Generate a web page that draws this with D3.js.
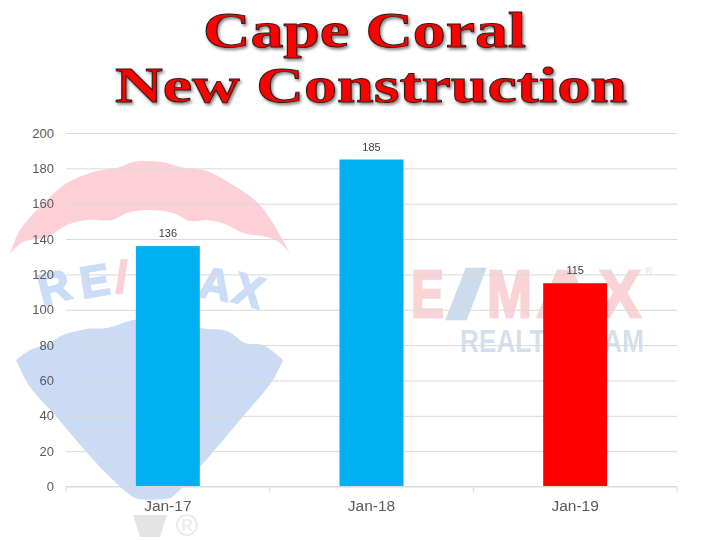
<!DOCTYPE html>
<html><head><meta charset="utf-8">
<script src="https://cdn.jsdelivr.net/npm/d3@7"></script>
<style>
html,body{margin:0;padding:0;background:#fff}
svg{display:block}
</style></head><body>
<svg id="c" width="720" height="540"></svg>
<script>
const categories = ["Jan-17","Jan-18","Jan-19"];
const values = [136,185,115];
const barColors = ["#00b0f0","#00b0f0","#ff0000"];
const yTicks = [0,20,40,60,80,100,120,140,160,180,200];
const titleLines = ["Cape Coral","New Construction"];

const topOuter = [[10,254],[20,230],[50,197],[67,183],[93,172],[120,167],[133,162],[150,161],[167,163],[180,167],[207,171],[233,185],[257,202],[273,223],[290,254]];
const topInner = [[290,254],[280,243],[267,237],[243,233],[227,225],[207,220],[190,221],[173,213],[147,210],[127,213],[112,220],[87,220],[67,225],[47,237],[23,242],[10,254]];
const bottomUpper = [[16,360],[30,350],[50,343],[63,335],[87,329],[107,328],[133,320],[150,318],[173,319],[200,328],[227,331],[245,343],[263,345],[283,360]];
const bottomLower = [[283,360],[273,380],[240,420],[200,467],[172,497],[165,499],[138,499],[130,495],[100,467],[53,413],[30,387],[16,360]];
const basket = [[133,515],[167,515],[160,537],[140,537]];
const arcLetters = [["R",58,302,-15,"#cbdcf7"],["E",97,296,-9,"#cbdcf7"],["/",122,292,-2,"#fbd0d6"],["M",168,294,3,"#cbdcf7"],["A",213,299,10,"#cbdcf7"],["X",245,305,15,"#cbdcf7"]];
const rightLetters = [["E",411,33,"#f9d3d6"],["/",447,38,"#cddcec"],["M",487,45,"#f9d3d6"],["A",536,58,"#f9d3d6"],["X",599,42,"#f9d3d6"]];

const svg = d3.select("#c");
const sans = "'Liberation Sans',Arial,sans-serif";
const defs = svg.append("defs");
const f = defs.append("filter").attr("id","sh").attr("x","-5%").attr("y","-10%").attr("width","110%").attr("height","130%");
f.append("feDropShadow").attr("dx",1.5).attr("dy",2).attr("stdDeviation",1.6).attr("flood-color","#000").attr("flood-opacity",0.5);
const bl = defs.append("filter").attr("id","soft");
bl.append("feGaussianBlur").attr("stdDeviation",0.5);

// Watermark
const wm = svg.append("g").attr("filter","url(#soft)");
const smooth = d3.line().curve(d3.curveCatmullRom.alpha(0.5));
const joined = (a,b)=> smooth(a) + smooth(b).replace(/^M/,"L") + "Z";
wm.append("path").attr("d",joined(topOuter,topInner)).attr("fill","#fdd0d7");
wm.append("path").attr("d",joined(bottomUpper,bottomLower)).attr("fill","#cbdbf4");
wm.append("path").attr("d",d3.line()(basket)+"Z").attr("fill","#e4e4e4");
wm.append("circle").attr("cx",187).attr("cy",525).attr("r",10).attr("fill","none").attr("stroke","#ececec").attr("stroke-width",2);
wm.append("text").attr("x",187).attr("y",531).attr("text-anchor","middle").attr("font-family",sans).attr("font-weight","bold").attr("font-size",16).attr("fill","#ececec").text("R");
wm.selectAll("text.l").data(arcLetters).join("text").attr("class","l")
  .attr("transform",d=>`translate(${d[1]},${d[2]}) rotate(${d[3]})`)
  .attr("text-anchor","middle").attr("font-family",sans).attr("font-weight","bold").attr("font-size",44)
  .attr("fill",d=>d[4]).attr("stroke",d=>d[4]).attr("stroke-width",2).text(d=>d[0]);
wm.selectAll("text.r").data(rightLetters).join("text").attr("class","r")
  .attr("x",d=>d[1]).attr("y",317).attr("font-family",sans).attr("font-weight","bold").attr("font-size",67)
  .attr("textLength",d=>d[2]).attr("lengthAdjust","spacingAndGlyphs").attr("fill",d=>d[3])
  .attr("stroke",d=>d[3]).attr("stroke-width",2.5).text(d=>d[0]);
wm.append("text").attr("x",645).attr("y",275).attr("font-family",sans).attr("font-size",10).attr("fill","#f9d3d6").text("®");
wm.append("text").attr("x",460).attr("y",352).attr("font-family",sans).attr("font-weight","bold").attr("font-size",31).attr("textLength",184).attr("lengthAdjust","spacingAndGlyphs").attr("fill","#d3dfec").text("REALTY TEAM");

// Scales
const x = d3.scaleBand().domain(categories).range([66,677]).paddingInner(0.686).paddingOuter(0.343);
const y = d3.scaleLinear().domain([0,200]).range([486.5,133]);

// Grid + y labels
const yAxis = d3.axisLeft(y).tickValues(yTicks).tickSize(-611).tickPadding(12);
const gy = svg.append("g").attr("transform","translate(66,0)").call(yAxis);
gy.select(".domain").remove();
gy.selectAll("line").attr("stroke","#d9d9d9").attr("stroke-width",1);
gy.selectAll("text").attr("font-family",sans).attr("font-size",13).attr("fill","#595959");

// Bars
svg.append("g").selectAll("rect").data(values).join("rect")
  .attr("x",(d,i)=>x(categories[i])).attr("width",x.bandwidth())
  .attr("y",d=>y(d)).attr("height",d=>y(0)-y(d))
  .attr("fill",(d,i)=>barColors[i]);

// Data labels
svg.append("g").selectAll("text").data(values).join("text")
  .attr("x",(d,i)=>x(categories[i])+x.bandwidth()/2).attr("y",d=>y(d)-9)
  .attr("text-anchor","middle").attr("font-family",sans).attr("font-size",11).attr("fill","#404040").text(d=>d);

// X axis
const xAxis = d3.axisBottom(x).tickSize(0).tickPadding(13);
const gx = svg.append("g").attr("transform","translate(0,486.5)").call(xAxis);
gx.select(".domain").attr("stroke","#d9d9d9").attr("d","M66,0H677");
gx.selectAll("text").attr("font-family",sans).attr("font-size",15.5).attr("fill","#595959");
const step = x.step();
gx.selectAll("line.t").data(d3.range(categories.length+1)).join("line").attr("class","t")
  .attr("x1",i=>66+i*step).attr("x2",i=>66+i*step).attr("y1",0).attr("y2",6).attr("stroke","#d9d9d9");

// Title
const titleX = [364.5,371], titleY = [47,102], titleW = [323,512];
svg.append("g").selectAll("text").data(titleLines).join("text")
  .attr("x",(d,i)=>titleX[i]-titleW[i]/2).attr("y",(d,i)=>titleY[i])
  .attr("font-family","'Liberation Serif','Times New Roman',serif")
  .attr("font-weight","bold").attr("font-size",50)
  .attr("textLength",(d,i)=>titleW[i]).attr("lengthAdjust","spacingAndGlyphs")
  .attr("fill","#ff0000").attr("stroke","#2a1a1a").attr("stroke-width",0.9)
  .attr("filter","url(#sh)").text(d=>d);
</script>
</body></html>
